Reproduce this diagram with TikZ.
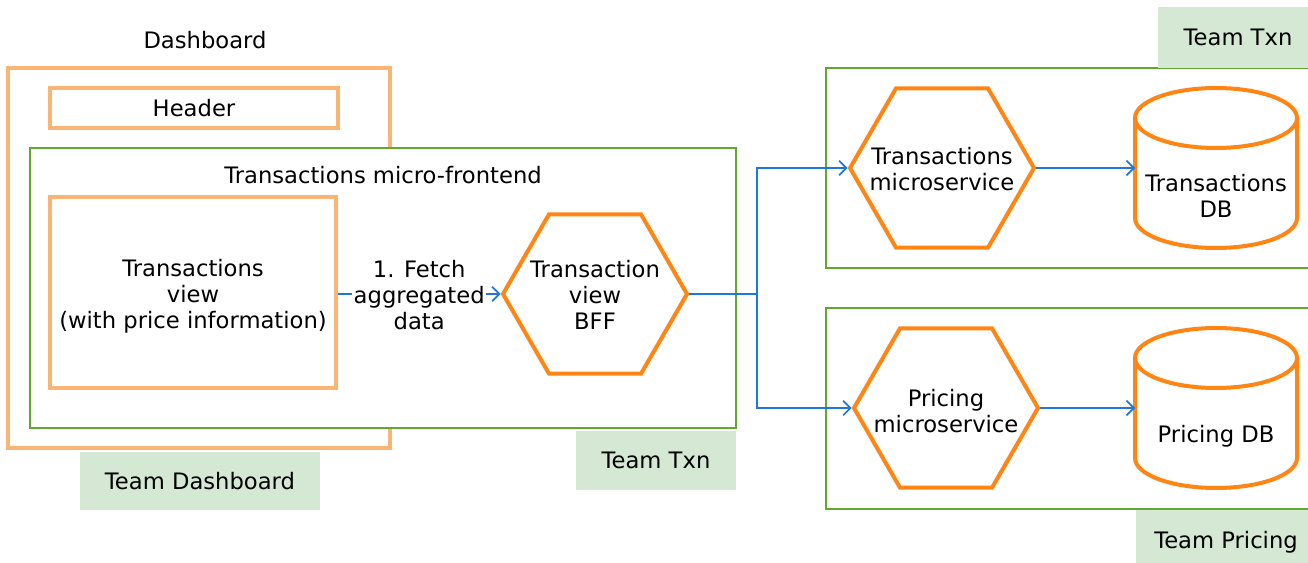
\documentclass[tikz,border=0pt]{standalone}
\usepackage{fontspec}
\setmainfont{DejaVu Sans}
\usetikzlibrary{shapes.geometric,arrows.meta}

\newcommand{\drawstore}[1]{%
	\draw[storeline] ([yshift=-22.5pt]#1.north) ellipse [x radius=60.75pt, y radius=22.5pt];
	\draw[storeline] ([yshift=-22.5pt]#1.north west) -- ([yshift=22.5pt]#1.south west)
		arc[start angle=180, end angle=360, x radius=60.75pt, y radius=22.5pt] -- ([yshift=-22.5pt]#1.north east);
}

\begin{document}
\begin{tikzpicture}[x=0.75pt,y=-0.75pt,
	font=\fontsize{17}{19.5}\selectfont,
	uibox/.style={draw=lightorange, line width=2.6pt, inner sep=0pt, align=center},
	teamframe/.style={draw=framegreen, line width=1.6pt, inner sep=0pt},
	teamtag/.style={fill=teamgreen, inner sep=0pt},
	service/.style={draw=hexorange, line width=3pt, regular polygon, regular polygon sides=6, minimum size=138pt, inner sep=0pt},
	store/.style={minimum width=121.5pt, minimum height=120pt, inner sep=0pt, outer sep=0pt},
	storeline/.style={draw=hexorange, line width=3pt},
	call/.style={draw=arrowblue, line width=1.3pt, -{Straight Barb[length=5.5pt,width=11pt]}}]
	\definecolor{lightorange}{RGB}{250,180,115}
	\definecolor{hexorange}{RGB}{255,133,20}
	\definecolor{framegreen}{RGB}{96,168,48}
	\definecolor{teamgreen}{RGB}{213,232,212}
	\definecolor{arrowblue}{RGB}{30,120,220}

	\useasboundingbox (0,0) rectangle (1308,563);

	\node (dashtitle) at (205,40) {Dashboard};
	\node[uibox, minimum width=286.5pt, minimum height=285pt] (dashboard) at (199,258) {};
	\node[uibox, minimum width=216pt, minimum height=30pt] (header) at (194,108) {Header};
	\node[teamframe, fill=white, minimum width=529.5pt, minimum height=210pt] (mfe) at (383,288) {};
	\node (mfetitle) at (383,175) {Transactions micro-frontend};
	\node[uibox, minimum width=214.5pt, minimum height=143.25pt,
		label={[align=center, yshift=-3pt]center:Transactions\\view\\(with price information)}] (view) at (193,292.5) {};
	\node[service, label={[align=center, yshift=-1pt]center:Transaction\\view\\BFF}] (bff) at (595,294) {};

	\node[teamframe, minimum width=370.5pt, minimum height=150pt] (txnframe) at (1073,168) {};
	\node[teamframe, minimum width=370.5pt, minimum height=150.75pt] (priceframe) at (1073,408.5) {};
	\node[service, label={[align=center, yshift=-1pt]center:Transactions\\microservice}] (tms) at (942,168) {};
	\node[service, label={[align=center, yshift=-2pt]center:Pricing\\microservice}] (pms) at (946,408) {};
	\node[store, label={[align=center, yshift=-21pt]center:Transactions\\DB}] (tdb) at (1216,168) {};
	\node[store, label={[yshift=-21pt]center:Pricing DB}] (pdb) at (1216,408) {};
	\drawstore{tdb}
	\drawstore{pdb}

	\node[teamtag, minimum width=180pt, minimum height=43.5pt] (teamdash) at (200,481) {Team Dashboard};
	\node[teamtag, minimum width=120pt, minimum height=44.25pt] (teamtxn) at (656,460.5) {Team Txn};
	\node[teamtag, minimum width=120pt, minimum height=45.75pt] (teamtxnright) at (1238,37.5) {Team Txn};
	\node[teamtag, minimum width=135pt, minimum height=48pt] (teampricing) at (1226,542) {Team Pricing};

	\draw[call] (view.east |- bff.west) -- node[fill=white, align=center, inner sep=1pt, yshift=-1pt] (fetch) {1. Fetch\\aggregated\\data} (bff.west);
	\coordinate (fork) at (757,294);
	\draw[arrowblue, line width=1.3pt] (bff.east) -- (fork);
	\draw[call] (fork) |- (tms.west);
	\draw[call] (fork) |- (pms.west);
	\draw[call] (tms) -- (tdb);
	\draw[call] (pms) -- (pdb);
\end{tikzpicture}
\end{document}
